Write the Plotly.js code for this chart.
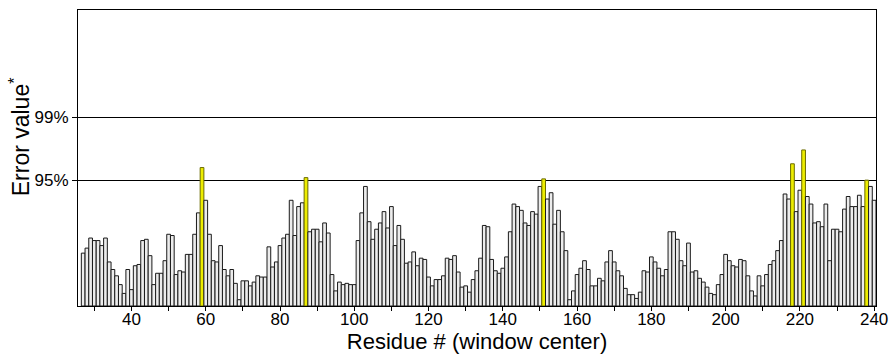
<!DOCTYPE html>
<html>
<head>
<meta charset="utf-8">
<script src="https://cdn.plot.ly/plotly-3.0.1.min.js"></script>
<style>html,body{margin:0;padding:0;background:#fff;}#chart{width:896px;height:358px;}</style>
</head>
<body>
<div id="chart"></div>
<script>
// Residue numbers (window centre), 27..240
const firstResidue = 27;
// Error value, scaled so that the 95% threshold = 1.0 and 99% = 1.5
const errorValues = [
  0.42,0.46,0.54,0.52,0.52,0.48,0.54,0.35,0.29,0.24, // 27-36
  0.17,0.10,0.29,0.13,0.32,0.33,0.52,0.53,0.40,0.17, // 37-46
  0.26,0.26,0.36,0.57,0.56,0.25,0.28,0.27,0.41,0.41, // 47-56
  0.57,0.74,1.10,0.84,0.57,0.36,0.35,0.48,0.29,0.24, // 57-66
  0.29,0.18,0.05,0.20,0.20,0.16,0.19,0.24,0.23,0.23, // 67-76
  0.47,0.31,0.35,0.48,0.54,0.57,0.84,0.56,0.79,0.82, // 77-86
  1.02,0.59,0.61,0.61,0.51,0.66,0.58,0.25,0.12,0.19, // 87-96
  0.17,0.18,0.17,0.17,0.52,0.74,0.95,0.67,0.53,0.61, // 97-106
  0.66,0.75,0.62,0.79,0.48,0.64,0.53,0.34,0.35,0.43, // 107-116
  0.32,0.38,0.37,0.23,0.16,0.21,0.21,0.24,0.38,0.37, // 117-126
  0.40,0.27,0.15,0.16,0.11,0.21,0.28,0.38,0.64,0.63, // 127-136
  0.37,0.28,0.26,0.30,0.39,0.59,0.81,0.79,0.76,0.66, // 137-146
  0.64,0.75,0.73,0.95,1.01,0.85,0.90,0.65,0.76,0.59, // 147-156
  0.44,0.05,0.12,0.25,0.30,0.36,0.29,0.16,0.16,0.22, // 157-166
  0.20,0.35,0.44,0.35,0.28,0.24,0.14,0.09,0.09,0.06, // 167-176
  0.11,0.28,0.27,0.39,0.35,0.30,0.24,0.29,0.59,0.59, // 177-186
  0.53,0.36,0.32,0.50,0.27,0.28,0.22,0.19,0.15,0.10, // 187-196
  0.09,0.17,0.25,0.41,0.36,0.32,0.31,0.37,0.36,0.24, // 197-206
  0.12,0.08,0.24,0.16,0.25,0.33,0.36,0.44,0.52,0.89, // 207-216
  0.85,1.13,0.75,0.92,1.24,0.87,0.81,0.66,0.67,0.63, // 217-226
  0.81,0.36,0.61,0.61,0.59,0.77,0.87,0.79,0.79,0.88, // 227-236
  0.79,1.00,0.95,0.84                                // 237-240
];
// Windows highlighted in yellow
const highlighted = [59, 87, 151, 218, 221, 238];
// Threshold lines
const thresholdValues = [1.0, 1.5];
const thresholdLabels = ['95%', '99%'];
// X tick labels every 20 (minor tick marks every 10)
const xTickValues = [40,60,80,100,120,140,160,180,200,220,240];
const xTickLabels = ['40','60','80','100','120','140','160','180','200','220','240'];
const yTitle = 'Error value<sup>*</sup>';
const xTitle = 'Residue # (window center)';

const residues = errorValues.map((_, i) => firstResidue + i);
const fillColors = residues.map(r => highlighted.includes(r) ? '#eded00' : '#ececec');
const lineColors = residues.map(r => highlighted.includes(r) ? '#6b6b00' : '#1a1a1a');

const trace = {
  type: 'bar',
  x: residues,
  y: errorValues,
  marker: {color: fillColors, line: {color: lineColors, width: 1}},
  hoverinfo: 'x+y'
};

const font = 'Liberation Sans, Arial, Helvetica, sans-serif';
const layout = {
  width: 896, height: 358,
  margin: {l: 78, r: 20, t: 10, b: 52},
  paper_bgcolor: '#fff', plot_bgcolor: '#fff',
  bargap: 0,
  showlegend: false,
  font: {family: font, color: '#000'},
  xaxis: {
    range: [25.6, 240.5],
    tickmode: 'array', tickvals: xTickValues, ticktext: xTickLabels,
    ticks: 'outside', ticklen: 4, tickwidth: 1, tickcolor: '#000',
    ticklabelstandoff: -6,
    tickfont: {size: 17, family: font},
    minor: {tick0: 0, dtick: 10, ticks: 'outside', ticklen: 4, tickwidth: 1, tickcolor: '#000', showgrid: false},
    showgrid: false, zeroline: false,
    showline: true, linecolor: '#000', linewidth: 1, mirror: true,
    title: {text: xTitle, font: {size: 22, family: font}, standoff: 3}
  },
  yaxis: {
    range: [0, 2.352],
    tickmode: 'array', tickvals: thresholdValues, ticktext: thresholdLabels,
    ticks: 'outside', ticklen: 5, tickwidth: 1, tickcolor: '#000',
    tickfont: {size: 17, family: font},
    showgrid: true, gridcolor: '#000', gridwidth: 1,
    zeroline: false,
    showline: true, linecolor: '#000', linewidth: 1, mirror: true
  },
  annotations: [{
    text: yTitle, textangle: -90,
    xref: 'paper', yref: 'paper', x: 0, y: 0.57,
    xshift: -58, xanchor: 'center', yanchor: 'middle',
    showarrow: false, font: {size: 23, family: font, color: '#000'}
  }]
};

Plotly.newPlot('chart', [trace], layout, {staticPlot: true, displayModeBar: false});
</script>
</body>
</html>
